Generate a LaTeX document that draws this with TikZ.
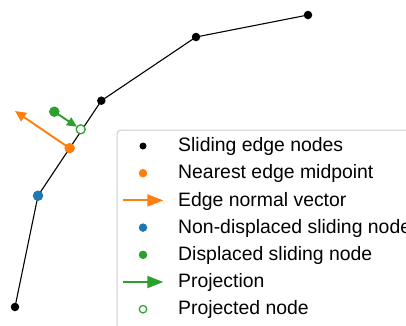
\documentclass[tikz,border=0pt]{standalone}
\usepackage{fontspec}
\setmainfont{Liberation Sans}
\usetikzlibrary{arrows.meta,calc,backgrounds}
\definecolor{mplorange}{HTML}{FF7F0E}
\definecolor{mplblue}{HTML}{1F77B4}
\definecolor{mplgreen}{HTML}{2CA02C}
\begin{document}
\begin{tikzpicture}[x=1pt,y=-1pt,
  dot/.style={circle,inner sep=0pt,outer sep=0pt,minimum size=#1},
  nodedot/.style={dot=8.5pt,fill=black},
  middot/.style={dot=10.5pt,fill=mplorange},
  fixdot/.style={dot=10.5pt,fill=mplblue},
  movedot/.style={dot=10.5pt,fill=mplgreen},
  projdot/.style={dot=9pt,draw=mplgreen,line width=1.3pt,fill=white},
  edgeline/.style={line width=1.1pt,black},
  normalarrow/.style={line width=1.9pt,mplorange,-{Triangle[length=11pt,width=10pt]}},
  projarrow/.style={line width=1.9pt,mplgreen,-{Triangle[length=10pt,width=9pt]}},
  legbox/.style={draw=black!20,line width=1pt,fill=white,rounded corners=4pt},
  legtext/.style={anchor=base west,inner sep=0pt,font=\fontsize{19.4}{23}\selectfont},
  legarrow/.style={line width=1.9pt,-{Triangle[length=16pt,width=12pt]}},
]
\useasboundingbox (0,0) rectangle (406,325);
\clip (0,0) rectangle (406,325);

% sliding edge nodes and the nodes on it
\node[nodedot] (n1) at (308,15) {};
\node[nodedot] (n2) at (196,37) {};
\node[nodedot] (n3) at (101.3,100.7) {};
\node[fixdot]  (fix) at (38,195.7) {};
\node[nodedot] (n4) at (15,307) {};
\node[middot]  (mid) at ($(n3)!0.5!(fix)$) {};
\node[movedot] (move) at (54.3,111.7) {};
\node[projdot] (proj) at (80.7,129.3) {};
\coordinate (ntip) at (15,111);

\begin{scope}[on background layer]
  \draw[edgeline] (n1.center) -- (n2.center) -- (n3.center) -- (fix.center) -- (n4.center);
  \draw[normalarrow] (mid.center) -- (ntip);
  \draw[projarrow] (move.center) -- (proj);
\end{scope}

% legend
\draw[legbox] (117,130) rectangle (430,345);
\foreach \i/\txt in {0/Sliding edge nodes,1/Nearest edge midpoint,2/Edge normal vector,
  3/Non-displaced sliding node,4/Displaced sliding node,5/Projection,6/Projected node}{
  \node[legtext] (lt\i) at (178,{151.7+27.2*\i}) {\txt};
  \coordinate (lm\i) at (143,{146+27.2*\i});
}
\node[dot=7pt,fill=black] (lk0) at (lm0) {};
\node[dot=8.5pt,fill=mplorange] (lk1) at (lm1) {};
\coordinate (la2) at (123,{146+27.2*2});
\coordinate (lb2) at (163.3,{146+27.2*2});
\draw[legarrow,mplorange] (la2) -- (lb2);
\node[dot=8.5pt,fill=mplblue] (lk3) at (lm3) {};
\node[dot=8.5pt,fill=mplgreen] (lk4) at (lm4) {};
\coordinate (la5) at (123,{146+27.2*5});
\coordinate (lb5) at (163.3,{146+27.2*5});
\draw[legarrow,mplgreen] (la5) -- (lb5);
\node[dot=7.5pt,draw=mplgreen,line width=1.2pt,fill=white] (lk6) at (lm6) {};
\end{tikzpicture}
\end{document}
